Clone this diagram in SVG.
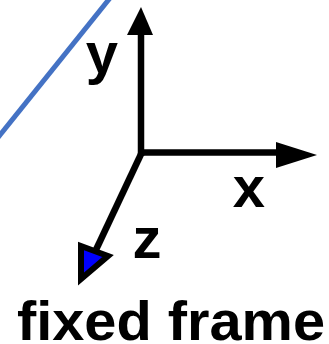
<svg xmlns="http://www.w3.org/2000/svg" width="329" height="344" viewBox="0 0 329 344">
<style>
.axis{stroke:#000;stroke-width:6.5;fill:none;stroke-linecap:butt}
.lbl{font-family:"Liberation Sans",Arial,sans-serif;font-weight:bold;font-size:58px;fill:#000}
.title{font-size:56px}
</style>
<rect width="329" height="344" fill="#fff"/>
<g id="edge-line">
<line x1="-2" y1="137.5" x2="110" y2="-2" stroke="#4472C4" stroke-width="5"/>
</g>
<g id="connectors">
<line class="axis" x1="141" y1="156" x2="141" y2="30"/>
<polygon points="141,7 127,35 153,35" fill="#000"/>
<line class="axis" x1="138" y1="152.5" x2="282" y2="152.5"/>
<polygon points="317,155 276,142 276,168" fill="#000"/>
<line class="axis" x1="142" y1="152" x2="94" y2="254"/>
<polygon points="81,246 108,256 81,279" fill="#0000ff" stroke="#000" stroke-width="6" stroke-linejoin="miter"/>
</g>
<g id="label-y"><text class="lbl" x="102" y="73" text-anchor="middle">y</text></g>
<g id="label-x"><text class="lbl" x="249" y="207" text-anchor="middle">x</text></g>
<g id="label-z"><text class="lbl" x="147" y="258" text-anchor="middle">z</text></g>
<g id="title"><text class="lbl title" x="17" y="340" textLength="308" lengthAdjust="spacingAndGlyphs">fixed frame</text></g>
</svg>
